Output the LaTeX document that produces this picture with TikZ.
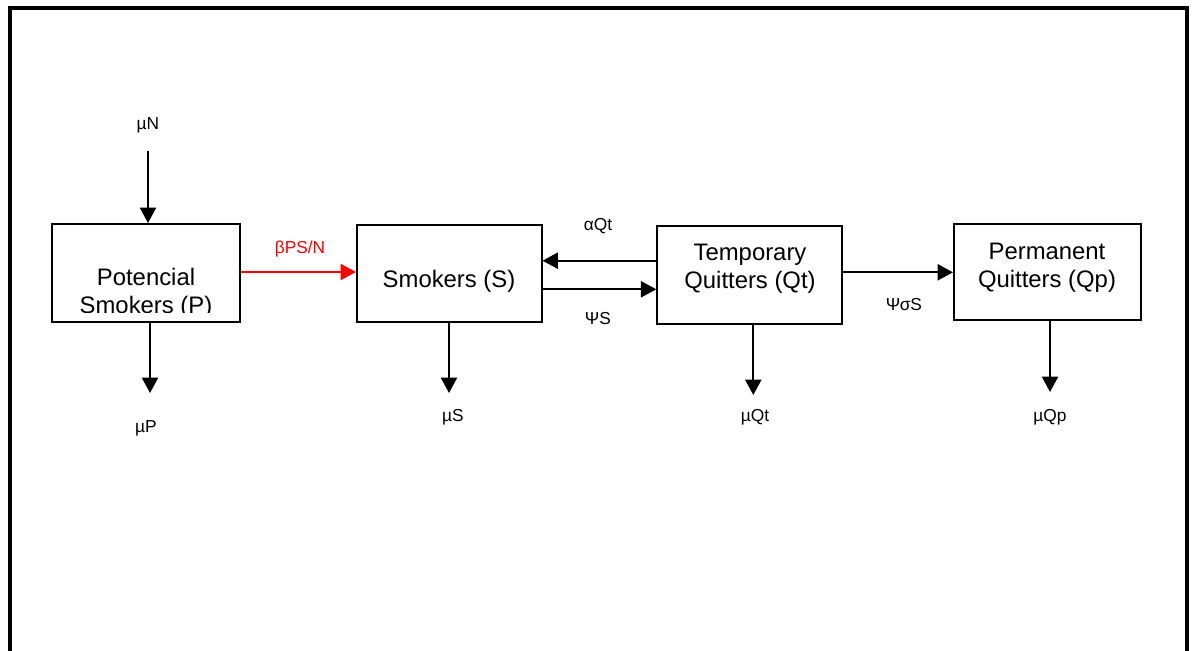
\documentclass[tikz,border=0pt]{standalone}
\usepackage{fontspec}
\setmainfont{Liberation Sans}
\usetikzlibrary{arrows.meta}
\begin{document}
\begin{tikzpicture}[x=0.75pt,y=-0.75pt,
  box/.style={draw, line width=1.5pt, inner sep=0pt, rectangle},
  flow/.style={line width=1.5pt, -{Triangle[length=11.5pt,width=12pt]}},
  big/.style={font=\fontsize{17.9}{21.2}\selectfont, align=center, inner sep=0pt},
  lbl/.style={font=\fontsize{13}{15}\selectfont, inner sep=0pt}]
\clip (0,0) rectangle (1192,650);
% frame
\draw[line width=2.8pt] (10,8) rectangle (1187,720);
% boxes
\node[box, minimum width=141pt, minimum height=73.5pt] (P) at (146,273) {};
\node[box, minimum width=138.4pt, minimum height=72.4pt] (S) at (449.25,273.75) {};
\node[box, minimum width=138.5pt, minimum height=73.7pt] (Qt) at (749.65,274.85) {};
\node[box, minimum width=140pt, minimum height=72pt] (Qp) at (1047.35,272) {};
% box texts
\begin{scope}
\clip (53,225) rectangle (239,312);
\node[big] (Ptxt) at (146,293) {Potencial\\Smokers (P)};
\end{scope}
\node[big] (Stxt) at (449,281) {Smokers (S)};
\node[big] (Qttxt) at (750,269) {Temporary\\Quitters (Qt)};
\node[big] (Qptxt) at (1047,268) {Permanent\\Quitters (Qp)};
% labels
\node[lbl] (lN) at (148,125) {µN};
\node[lbl] (lP) at (146,428) {µP};
\node[lbl, red] (lB) at (300,249) {βPS/N};
\node[lbl] (lA) at (598,226) {αQt};
\node[lbl] (lPsi) at (598,319) {ΨS};
\node[lbl] (lS) at (453,417) {µS};
\node[lbl] (lPsiS) at (904,304.5) {ΨσS};
\node[lbl] (lQt) at (755,417) {µQt};
\node[lbl] (lQp) at (1050,417) {µQp};
% coordinates
\coordinate (nTop) at (148,151);
\coordinate (pEnd) at (150,393);
\coordinate (sEnd) at (449,393);
\coordinate (qtEnd) at (753.3,395);
\coordinate (qpEnd) at (1050,392);
\coordinate (yRed) at (0,272);
\coordinate (yUp) at (0,260.7);
\coordinate (yLow) at (0,289.3);
\coordinate (yQ) at (0,272.3);
% arrows
\draw[flow] (nTop) -- (nTop |- P.north);
\draw[flow] (pEnd |- P.south) -- (pEnd);
\draw[flow, red] (yRed -| P.east) -- (yRed -| S.west);
\draw[flow] (yUp -| Qt.west) -- (yUp -| S.east);
\draw[flow] (yLow -| S.east) -- (yLow -| Qt.west);
\draw[flow] (sEnd |- S.south) -- (sEnd);
\draw[flow] (yQ -| Qt.east) -- (yQ -| Qp.west);
\draw[flow] (qtEnd |- Qt.south) -- (qtEnd);
\draw[flow] (qpEnd |- Qp.south) -- (qpEnd);
\end{tikzpicture}
\end{document}
